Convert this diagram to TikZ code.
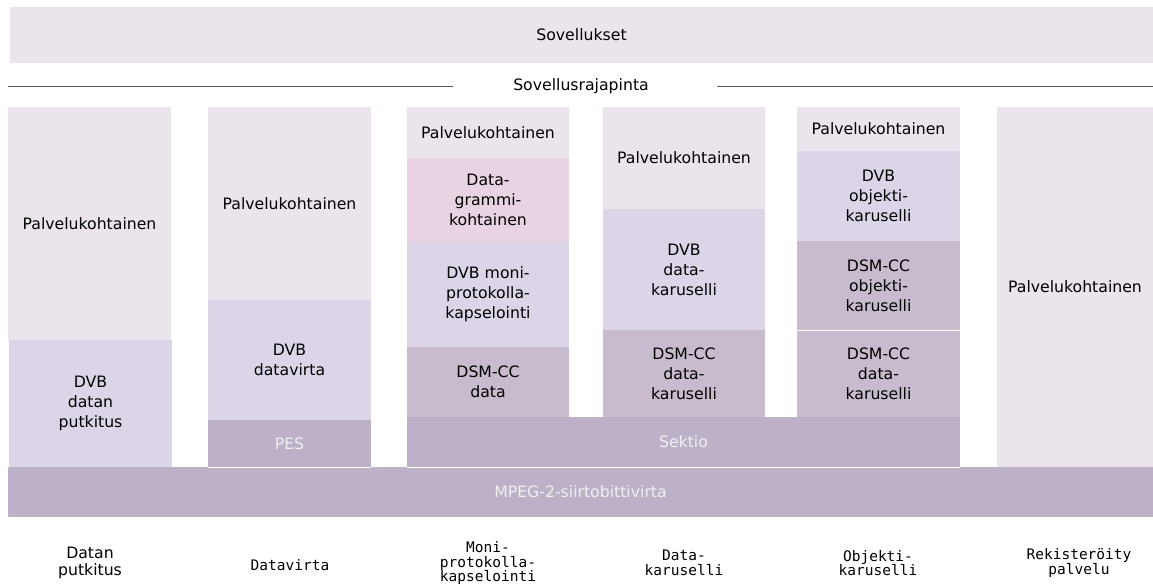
\documentclass[tikz,border=0pt]{standalone}
\usepackage{fontspec}
\setmainfont{DejaVu Sans}
\newfontfamily\monofam{DejaVu Sans Mono}
\definecolor{cLight}{HTML}{EBE4ED}
\definecolor{cDvb}{HTML}{DCD5E8}
\definecolor{cGram}{HTML}{E8D3E3}
\definecolor{cDsm}{HTML}{C9BBCE}
\definecolor{cBase}{HTML}{BDB1C7}
\definecolor{cLine}{HTML}{555555}
\newcommand{\blk}[7]{%
  \node[blk, fill=#6, minimum width={#4pt-#2pt}, minimum height={#5pt-#3pt}] (#1) at (#2,#3) {#7};}
\begin{document}
\begin{tikzpicture}[x=1pt,y=-1pt,
  blk/.style={anchor=north west, inner sep=0pt, outer sep=0pt, align=center,
    font=\fontsize{15.7}{20}\selectfont},
  lbl/.style={align=center, inner sep=0pt, font=\monofam\fontsize{14.5}{14.5}\selectfont},
  slbl/.style={align=center, inner sep=0pt, font=\fontsize{15.7}{17}\selectfont},
  apiline/.style={draw=cLine, line width=0.9pt},
  sep/.style={draw=white, line width=0.8pt}]
\useasboundingbox (0,0) rectangle (1153,585);
% top
\blk{app}{10}{7}{1153}{63}{cLight}{Sovellukset}
\node[font=\fontsize{15.7}{20}\selectfont, inner sep=0pt] (api) at (581,86) {Sovellusrajapinta};
\coordinate (l1) at (8,86); \coordinate (l2) at (453,86);
\coordinate (r1) at (717,86); \coordinate (r2) at (1153,86);
\draw[apiline] (l1) -- (l2);
\draw[apiline] (r1) -- (r2);
% column 1
\blk{c1a}{8}{107}{171}{340}{cLight}{Palvelukohtainen}
\blk{c1b}{9}{340}{172}{467}{cDvb}{DVB\\datan\\putkitus}
% column 2
\blk{c2a}{208}{107}{371}{300}{cLight}{Palvelukohtainen}
\blk{c2b}{208}{300}{371}{420}{cDvb}{DVB\\datavirta}
\blk{c2c}{208}{420}{371}{467}{cBase}{\textcolor{white!94!black}{PES}}
% column 3
\blk{c3a}{407}{107}{569}{158}{cLight}{Palvelukohtainen}
\blk{c3b}{407}{158}{569}{242}{cGram}{Data-\\grammi-\\kohtainen}
\blk{c3c}{407}{242}{569}{347}{cDvb}{DVB moni-\\protokolla-\\kapselointi}
\blk{c3d}{407}{347}{569}{417}{cDsm}{DSM-CC\\data}
% column 4
\blk{c4a}{603}{107}{765}{209}{cLight}{Palvelukohtainen}
\blk{c4b}{603}{209}{765}{330}{cDvb}{DVB\\data-\\karuselli}
\blk{c4c}{603}{330}{765}{417}{cDsm}{DSM-CC\\data-\\karuselli}
% column 5
\blk{c5a}{797}{107}{960}{151}{cLight}{Palvelukohtainen}
\blk{c5b}{797}{151}{960}{241}{cDvb}{DVB\\objekti-\\karuselli}
\blk{c5c}{797}{241}{960}{330}{cDsm}{DSM-CC\\objekti-\\karuselli}
\blk{c5d}{797}{330}{960}{417}{cDsm}{DSM-CC\\data-\\karuselli}
\draw[sep] (c5c.south west) -- (c5c.south east);
% sektio
\blk{sek}{407}{417}{960}{467}{cBase}{\textcolor{white!94!black}{Sektio}}
% column 6
\blk{c6}{997}{107}{1153}{467}{cLight}{Palvelukohtainen}
% base
\blk{mpeg}{8}{467}{1153}{517}{cBase}{\textcolor{white!94!black}{MPEG-2-siirtobittivirta}}
\draw[sep] (c2c.south west) -- (c2c.south east);
\draw[sep] (sek.south west) -- (sek.south east);
% bottom labels
\node[slbl] (b1) at (90,563) {Datan\\putkitus};
\node[lbl] (b2) at (290,565) {Datavirta};
\node[lbl] (b3) at (488,563) {Moni-\\protokolla-\\kapselointi};
\node[lbl] (b4) at (684,563) {Data-\\karuselli};
\node[lbl] (b5) at (878,563) {Objekti-\\karuselli};
\node[lbl] (b6) at (1079,563) {Rekisteröity\\palvelu};
\end{tikzpicture}
\end{document}
